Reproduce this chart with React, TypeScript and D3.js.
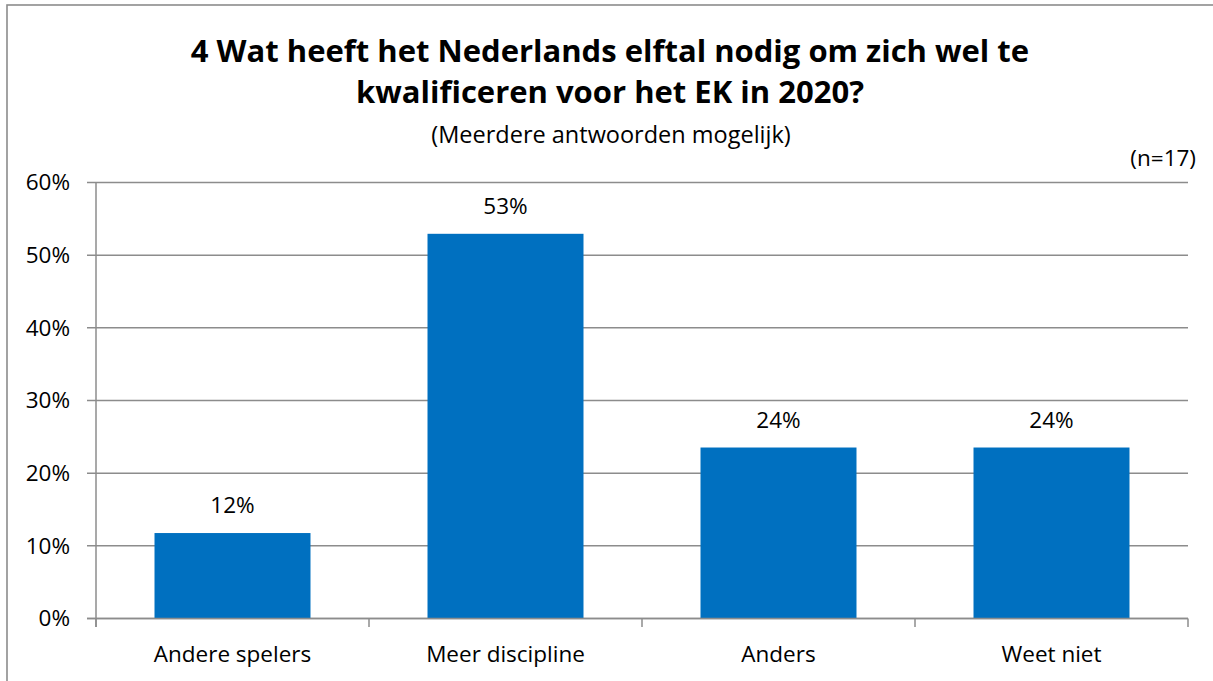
import React from "react";
import * as d3 from "d3";

const categories = ["Andere spelers", "Meer discipline", "Anders", "Weet niet"];
const values = [11.76, 52.94, 23.53, 23.53];
const labels = ["12%", "53%", "24%", "24%"];
const yTicks = [0, 10, 20, 30, 40, 50, 60];
const titleLines = ["4 Wat heeft het Nederlands elftal nodig om zich wel te", "kwalificeren voor het EK in 2020?"];
const subtitle = "(Meerdere antwoorden mogelijk)";
const nLabel = "(n=17)";

const W = 1213;
const H = 681;
const FONT = "'Open Sans', sans-serif";
const GRID = "#8c8c8c";
const FS = 22.5;

export default function App() {
  const x = d3.scaleBand<string>().domain(categories).range([96, 1188]).paddingInner(0.4286).paddingOuter(0.2143);
  const y = d3.scaleLinear().domain([0, 60]).range([618.5, 182.5]);
  const xEdges = d3.range(categories.length + 1).map((i) => 96 + (i * (1188 - 96)) / categories.length);
  return (
    <svg width={W} height={H} style={{ position: "absolute", left: 0, top: 0, background: "#fff" }}>
      <rect x={0} y={0} width={W} height={H} fill="#fff" />
      <rect x={7} y={5} width={W + 20} height={H + 20} fill="none" stroke={GRID} strokeWidth={1.6} />
      {titleLines.map((t, i) => (
        <text key={i} x={610} y={62 + i * 41} textAnchor="middle" fontFamily={FONT} fontWeight={700} fontSize={31} fill="#000">
          {t}
        </text>
      ))}
      <text x={611} y={143} textAnchor="middle" fontFamily={FONT} fontSize={23.5} fill="#000">
        {subtitle}
      </text>
      <text x={1196} y={166} textAnchor="end" fontFamily={FONT} fontSize={FS} fill="#000">
        {nLabel}
      </text>
      {yTicks.map((t) => (
        <g key={t}>
          <line x1={87} x2={1188} y1={y(t)} y2={y(t)} stroke={GRID} strokeWidth={1.5} />
          <text x={70} y={y(t) + 7.8} textAnchor="end" fontFamily={FONT} fontSize={FS} fill="#000">
            {t}%
          </text>
        </g>
      ))}
      <line x1={96} x2={96} y1={y(60)} y2={627} stroke={GRID} strokeWidth={1.5} />
      {xEdges.map((e, i) => (
        <line key={i} x1={e} x2={e} y1={y(0)} y2={627} stroke={GRID} strokeWidth={1.5} />
      ))}
      {categories.map((c, i) => (
        <g key={c}>
          <rect x={x(c)} y={y(values[i])} width={x.bandwidth()} height={y(0) - y(values[i])} fill="#0070C0" />
          <text x={(x(c) as number) + x.bandwidth() / 2} y={y(values[i]) - 20} textAnchor="middle" fontFamily={FONT} fontSize={FS} fill="#000">
            {labels[i]}
          </text>
          <text x={(x(c) as number) + x.bandwidth() / 2} y={662} textAnchor="middle" fontFamily={FONT} fontSize={FS} fill="#000">
            {c}
          </text>
        </g>
      ))}
      <line x1={87} x2={1188} y1={y(0)} y2={y(0)} stroke={GRID} strokeWidth={1.5} />
    </svg>
  );
}
